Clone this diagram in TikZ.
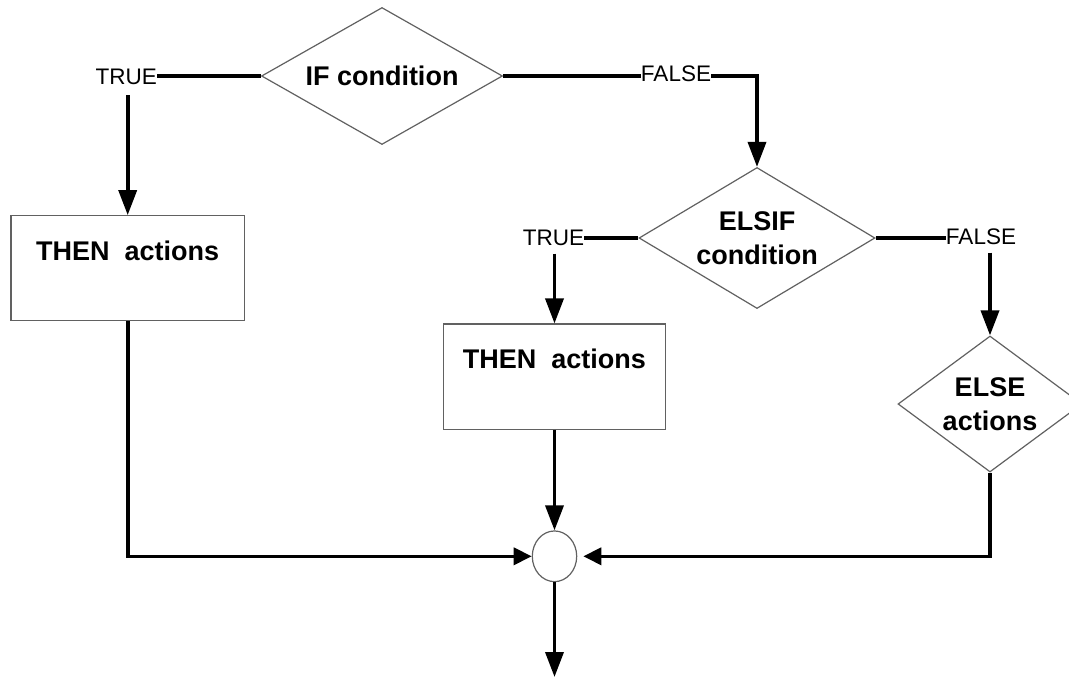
\documentclass[tikz,border=0pt]{standalone}
\usepackage{fontspec}
\setmainfont{Liberation Sans}
\usetikzlibrary{arrows.meta,shapes.geometric}
\begin{document}
\begin{tikzpicture}[x=1pt,y=-1pt,
  conn/.style={line width=3.6pt, black},
  arrv/.style={conn, -{Triangle[length=25pt,width=18pt]}},
  arrh/.style={conn, -{Triangle[length=18pt,width=17pt]}},
  shp/.style={draw=black!62, line width=1.2pt, fill=white},
  big/.style={font=\fontsize{27}{34}\selectfont\bfseries},
  lbl/.style={font=\fontsize{22.5}{26}\selectfont, inner sep=0pt},
  dia/.style={shp, big, shape=diamond, inner sep=0pt, align=center},
  boxs/.style={shp, big, shape=rectangle, inner sep=0pt, text height=44.3pt},
  joins/.style={shp, shape=ellipse, inner sep=0pt, minimum width=44.4pt, minimum height=50.7pt}
]
\useasboundingbox (0,0) rectangle (1069,677);
\fill[white] (0,0) rectangle (1069,677);

% shapes
\node[dia, shape aspect=1.76, minimum width=241pt, minimum height=137pt] (if) at (382,76) {IF condition};
\node[dia, shape aspect=1.67, minimum width=236pt, minimum height=141pt] (elsif) at (757,238) {ELSIF\\condition};
\node[dia, shape aspect=1.35, minimum width=184pt, minimum height=136pt] (else) at (990,404) {ELSE\\actions};
\node[boxs, minimum width=233.3pt, text depth=60.7pt] (then1) at (127.7,268.2) {THEN\ \ actions};
\node[boxs, minimum width=222.4pt, text depth=61pt] (then2) at (554.5,376.7) {THEN\ \ actions};
\node[joins] (join) at (554.5,556.3) {};
\coordinate (out) at (554.5,677);

% labels
\node[lbl] (t1) at (126.3,77) {TRUE};
\node[lbl] (f1) at (676,74) {FALSE};
\node[lbl] (t2) at (553.4,237.5) {TRUE};
\node[lbl] (f2) at (981,236.5) {FALSE};

% connectors
\draw[conn] (if.west) -- (if.west -| t1.east);
\draw[arrv, shorten <=10pt] (t1.south -| then1.north) -- (then1.north);
\draw[conn] (if.east) -- (if.east -| f1.west);
\draw[arrv] (if.east -| f1.east) -| (elsif.north);
\draw[conn] (elsif.west) -- (elsif.west -| t2.east);
\draw[arrv, shorten <=8pt] (t2.south -| then2.north) -- (then2.north);
\draw[conn] (elsif.east) -- (elsif.east -| f2.west);
\draw[arrv, shorten <=8pt] (f2.south -| else.north) -- (else.north);
\draw[arrh] (then1.south) |- (join.west);
\draw[arrv] (then2.south) -- (join.north);
\draw[arrh, shorten >=6pt] (else.south) |- (join.east);
\draw[arrv] (join.south) -- (out);
\end{tikzpicture}
\end{document}
